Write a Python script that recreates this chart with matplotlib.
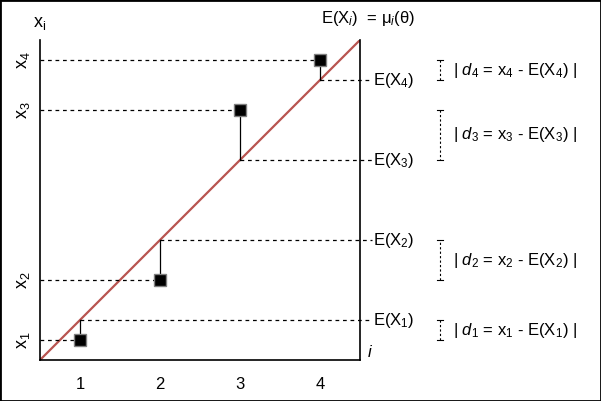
import matplotlib
matplotlib.use("Agg")
import matplotlib.pyplot as plt
from matplotlib.patches import Rectangle

plt.rcParams['font.family'] = ['Liberation Sans', 'DejaVu Sans']
plt.rcParams['mathtext.fontset'] = 'custom'
plt.rcParams['mathtext.rm'] = 'Liberation Sans'
plt.rcParams['mathtext.it'] = 'Liberation Sans:italic'
plt.rcParams['mathtext.sf'] = 'Liberation Sans'

idx = [1, 2, 3, 4]
observed = [0.75, 1.5, 3.625, 4.25]
expected = [1, 2, 3, 4]
ytick_labels = [r"x$_1$", r"x$_2$", r"x$_3$", r"x$_4$"]
exp_labels = [r"E(X$_{\mathit{1}}$)", r"E(X$_2$)", r"E(X$_3$)", r"E(X$_4$)"]
d_labels = [r"| $\mathit{d}_1$ = x$_1$ - E(X$_1$) |",
            r"| $\mathit{d}_2$ = x$_2$ - E(X$_2$) |",
            r"| $\mathit{d}_3$ = x$_3$ - E(X$_3$) |",
            r"| $\mathit{d}_4$ = x$_4$ - E(X$_4$) |"]
line_x = [0.5, 4.5]
line_y = [0.5, 4.5]

W, H = 601, 401
fig = plt.figure(figsize=(W / 100, H / 100), dpi=100)
fig.patches.append(Rectangle((0, 0), 1, 1, transform=fig.transFigure,
                             fill=False, edgecolor='black', linewidth=2))
ax = fig.add_axes([40 / W, 41 / H, 320 / W, 320 / H])
ax.set_xlim(0.5, 4.5)
ax.set_ylim(0.5, 4.5)
ax.spines['top'].set_visible(False)
for s in ['left', 'right', 'bottom']:
    ax.spines[s].set_linewidth(1.2)

ax.plot(line_x, line_y, color='#B85450', linewidth=1.6, zorder=2)

for i, o, e in zip(idx, observed, expected):
    ax.plot([0.5, i], [o, o], color='black', linestyle=(0, (3, 3)), linewidth=0.9)
    ax.plot([i, 4.65], [e, e], color='black', linestyle=(0, (3, 3)), linewidth=0.9,
            clip_on=False)
    ax.plot([i, i], [o, e], color='black', linewidth=0.9)
    ax.plot([i], [o], marker='s', markersize=8.5, markerfacecolor='black',
            markeredgecolor='#808080', markeredgewidth=1, zorder=5)

for e, lab in zip(expected, exp_labels):
    ax.text(4.66, e, lab, fontsize=12, ha='left', va='center')

bx = 5.5
for o, e, lab in zip(observed, expected, d_labels):
    ax.plot([bx, bx], [o, e], color='black', linestyle=(0, (2, 2)), linewidth=0.8,
            clip_on=False)
    for yy in (o, e):
        ax.plot([bx - 0.04, bx + 0.04], [yy, yy], color='black', linewidth=0.8,
                clip_on=False)
    ax.text(bx + 0.16, (o + e) / 2, lab, fontsize=12, ha='left', va='center')

ax.set_xticks(idx)
ax.set_xticklabels([str(i) for i in idx], fontsize=12)
ax.set_yticks(observed)
ax.set_yticklabels(ytick_labels, fontsize=13, rotation=90, va='center')
ax.tick_params(axis='both', length=0)
ax.tick_params(axis='x', pad=12)
ax.tick_params(axis='y', pad=6)

ax.text(0.5, 4.6, r"x$_\mathrm{i}$", fontsize=13, ha='center', va='bottom')
ax.text(4.62, 0.5, r"$\mathit{i}$", fontsize=12, ha='center', va='bottom')
ax.text(4.6, 4.77, r"E(X$_{\mathit{i}}$)  = μ$_{\mathit{i}}$(θ)", fontsize=12,
        ha='center', va='center')

fig.savefig("out.png", dpi=100)
